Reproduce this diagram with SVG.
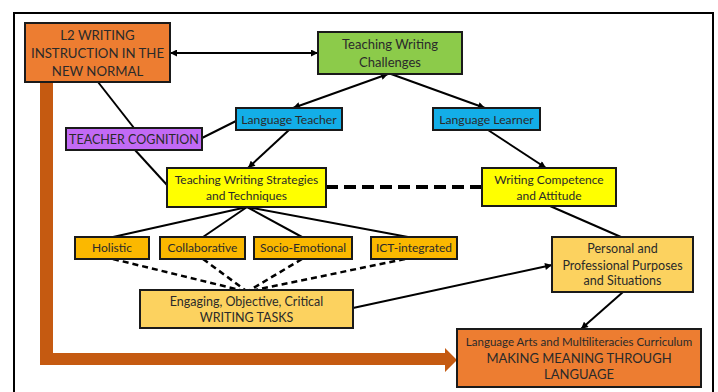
<svg xmlns="http://www.w3.org/2000/svg" width="718" height="392" viewBox="0 0 718 392">
<style>
.box{stroke:#1a1a1a;stroke-width:2}
.t{font-family:Lato,"Open Sans","Liberation Sans",sans-serif;fill:#2a2a2a;text-anchor:middle}
.ln{stroke:#000;stroke-width:2;fill:none}
.ds{stroke:#000;stroke-width:2.5;fill:none;stroke-dasharray:6 4}
</style>
<defs>
<marker id="ah" viewBox="0 0 10 10" refX="10" refY="5" markerWidth="8" markerHeight="7" markerUnits="userSpaceOnUse" orient="auto-start-reverse">
<path d="M0,0 L10,5 L0,10 z" fill="#000"/>
</marker>
</defs>
<rect width="718" height="392" fill="#fff"/>
<path d="M14,392 V13 H713 V392" fill="none" stroke="#000" stroke-width="2"/>
<polygon points="40,82 53,82 53,353 445,353 445,348 457,360 445,372 445,365 40,365" fill="#C55A11"/>
<g id="connectors">
<line class="ln" x1="170" y1="53" x2="318" y2="53" marker-start="url(#ah)" marker-end="url(#ah)"/>
<line class="ln" x1="388" y1="74" x2="293" y2="108" marker-start="url(#ah)" marker-end="url(#ah)"/>
<line class="ln" x1="391" y1="74" x2="485" y2="108" marker-end="url(#ah)"/>
<line class="ln" x1="289" y1="130" x2="248" y2="168" marker-end="url(#ah)"/>
<line class="ln" x1="488" y1="130" x2="546" y2="168" marker-end="url(#ah)"/>
<line class="ln" x1="98" y1="82" x2="134" y2="128"/>
<line class="ln" x1="135" y1="150" x2="167" y2="185"/>
<line class="ln" x1="236" y1="121" x2="202" y2="138"/>
<line x1="326" y1="187" x2="482" y2="187" stroke="#000" stroke-width="4" stroke-dasharray="12 6"/>
<line class="ln" x1="247" y1="207" x2="113" y2="237"/>
<line class="ln" x1="247" y1="207" x2="203" y2="237"/>
<line class="ln" x1="247" y1="207" x2="302" y2="237"/>
<line class="ln" x1="247" y1="207" x2="408" y2="237"/>
<line class="ds" x1="113" y1="259" x2="240" y2="290"/>
<line class="ds" x1="203" y1="259" x2="245" y2="290"/>
<line class="ds" x1="302" y1="259" x2="250" y2="290"/>
<line class="ds" x1="405" y1="259" x2="255" y2="290"/>
<line class="ln" x1="550" y1="206" x2="621" y2="237"/>
<line class="ln" x1="353" y1="308" x2="552" y2="265" marker-end="url(#ah)"/>
<line class="ln" x1="623" y1="292" x2="581" y2="329" marker-end="url(#ah)"/>
</g>
<g id="l2">
<rect class="box" x="25" y="23" width="145" height="59" fill="#ED7D31"/>
<text class="t" font-size="13.2" x="97.5" y="40">L2 WRITING</text>
<text class="t" font-size="13.2" x="97.5" y="58">INSTRUCTION IN THE</text>
<text class="t" font-size="13.2" x="97.5" y="76">NEW NORMAL</text>
</g>
<g id="challenges">
<rect class="box" x="318" y="32" width="144" height="42" fill="#8CCB4A"/>
<text class="t" font-size="13" x="390" y="48.5">Teaching Writing</text>
<text class="t" font-size="13" x="390" y="66.5">Challenges</text>
</g>
<g id="teacher">
<rect class="box" x="236" y="108" width="106" height="22" fill="#13AEE8"/>
<text class="t" font-size="12.2" x="289" y="123.5">Language Teacher</text>
</g>
<g id="learner">
<rect class="box" x="433" y="108" width="107" height="22" fill="#13AEE8"/>
<text class="t" font-size="12.2" x="486.5" y="123.5">Language Learner</text>
</g>
<g id="cognition">
<rect class="box" x="66" y="128" width="136" height="22" fill="#C26AF5"/>
<text class="t" font-size="12.5" x="134" y="143.5">TEACHER COGNITION</text>
</g>
<g id="strategies">
<rect class="box" x="167" y="168" width="159" height="39" fill="#FFFF00"/>
<text class="t" font-size="12" x="246.5" y="184">Teaching Writing Strategies</text>
<text class="t" font-size="12" x="246.5" y="200">and Techniques</text>
</g>
<g id="competence">
<rect class="box" x="482" y="168" width="134" height="38" fill="#FFFF00"/>
<text class="t" font-size="12" x="549" y="184">Writing Competence</text>
<text class="t" font-size="12" x="549" y="200">and Attitude</text>
</g>
<g id="holistic">
<rect class="box" x="75" y="237" width="74" height="22" fill="#FBB800"/>
<text class="t" font-size="12" x="112" y="252">Holistic</text>
</g>
<g id="collaborative">
<rect class="box" x="160" y="237" width="85" height="22" fill="#FBB800"/>
<text class="t" font-size="12" x="202.5" y="252">Collaborative</text>
</g>
<g id="socio">
<rect class="box" x="254" y="237" width="98" height="22" fill="#FBB800"/>
<text class="t" font-size="12" x="303" y="252">Socio-Emotional</text>
</g>
<g id="ict">
<rect class="box" x="371" y="237" width="86" height="22" fill="#FBB800"/>
<text class="t" font-size="12" x="414" y="252">ICT-integrated</text>
</g>
<g id="engaging">
<rect class="box" x="140" y="290" width="213" height="38" fill="#FCD25F"/>
<text class="t" font-size="12.5" x="246.5" y="305.5">Engaging, Objective, Critical</text>
<text class="t" font-size="12.5" x="246.5" y="321.5">WRITING TASKS</text>
</g>
<g id="personal">
<rect class="box" x="552" y="237" width="141" height="55" fill="#FCD25F"/>
<text class="t" font-size="12.5" x="622.5" y="253">Personal and</text>
<text class="t" font-size="12.5" x="622.5" y="269.5">Professional Purposes</text>
<text class="t" font-size="12.5" x="622.5" y="284.5">and Situations</text>
</g>
<g id="langarts">
<rect class="box" x="457" y="329" width="244" height="58" fill="#ED7D31"/>
<text class="t" font-size="11.5" x="579" y="346">Language Arts and Multiliteracies Curriculum</text>
<text class="t" font-size="13" x="579" y="362.5">MAKING MEANING THROUGH</text>
<text class="t" font-size="13" x="579" y="379">LANGUAGE</text>
</g>
</svg>
